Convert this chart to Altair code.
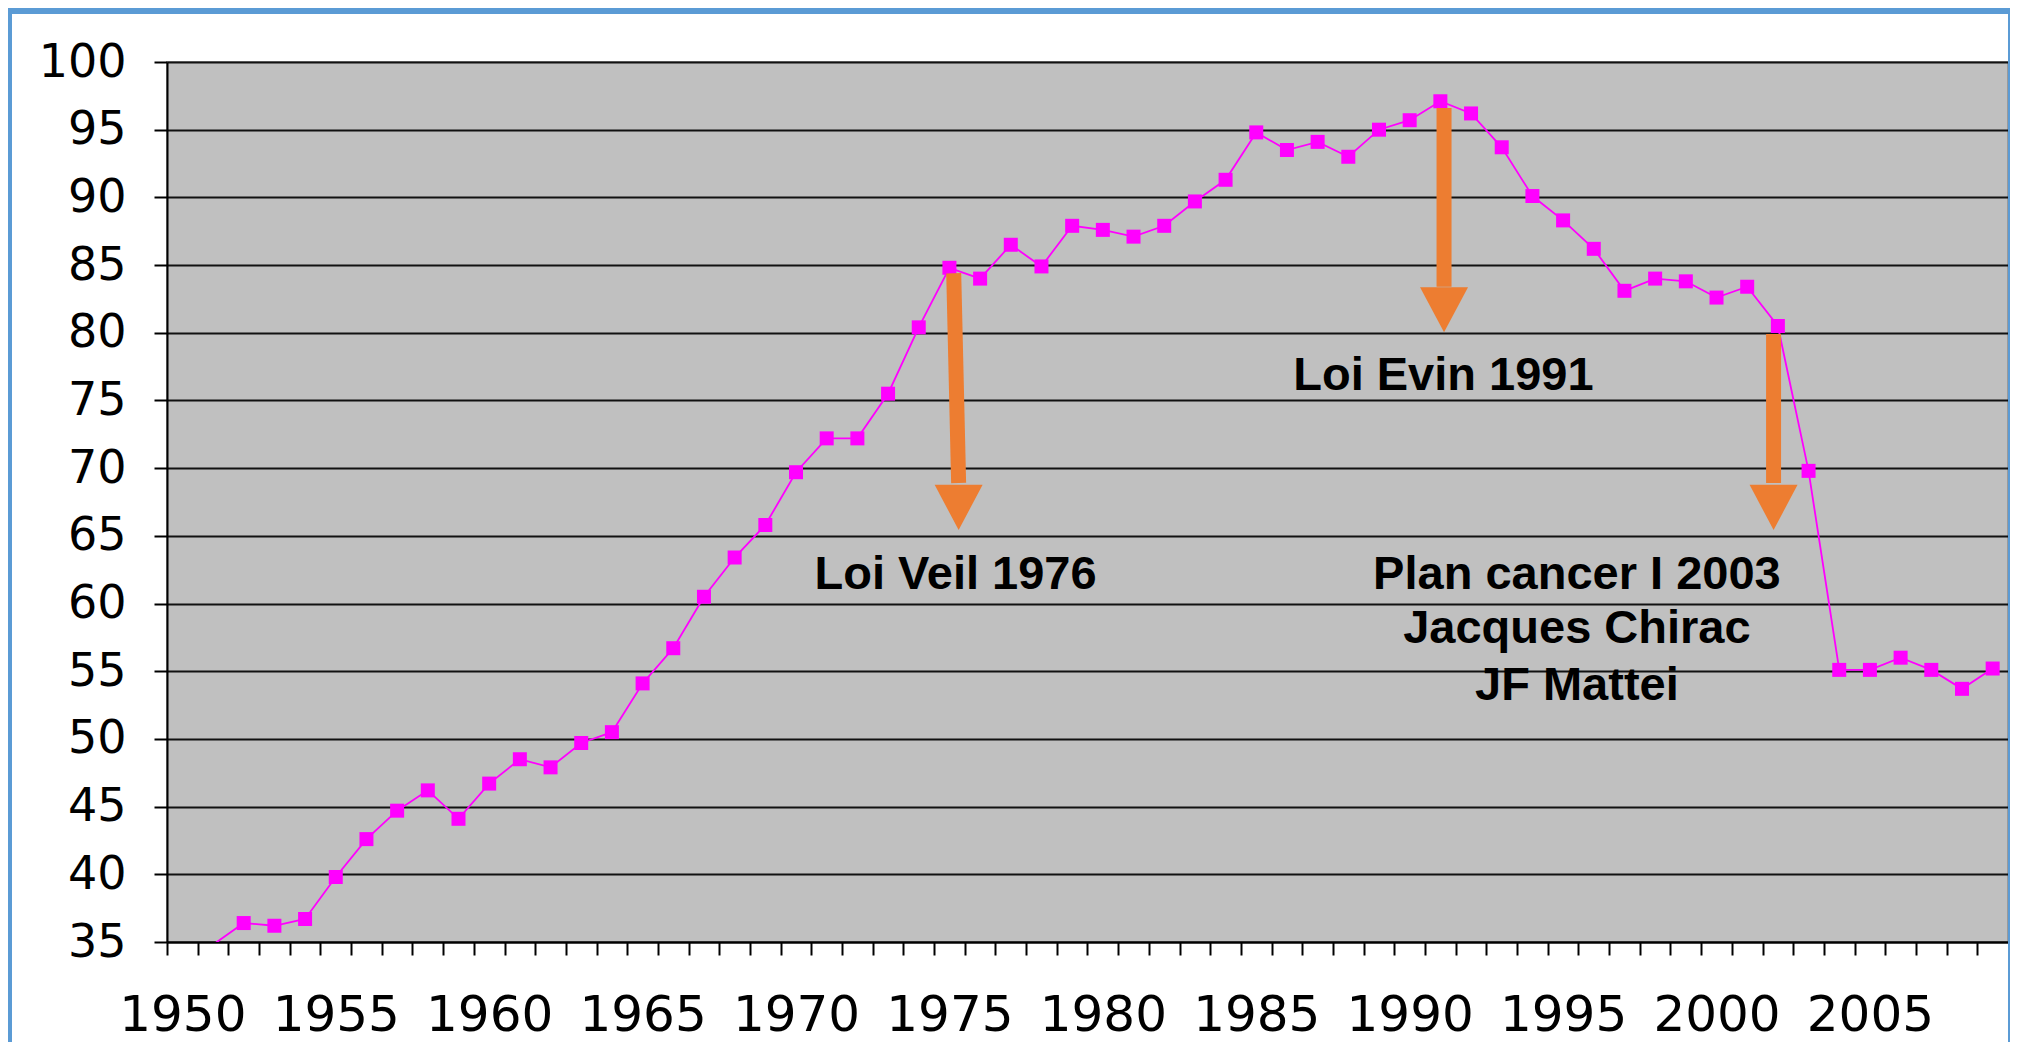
import altair as alt
import pandas as pd

# ---- data ----
years = list(range(1951, 2010))
values = [34.8, 36.4, 36.2, 36.7, 39.8, 42.6, 44.7, 46.2, 44.1, 46.7,
          48.5, 47.9, 49.7, 50.5, 54.1, 56.7, 60.5, 63.4, 65.8, 69.7,
          72.2, 72.2, 75.5, 80.4, 84.8, 84.0, 86.5, 84.9, 87.9, 87.6,
          87.1, 87.9, 89.7, 91.3, 94.8, 93.5, 94.1, 93.0, 95.0, 95.7,
          97.1, 96.2, 93.7, 90.1, 88.3, 86.2, 83.1, 84.0, 83.8, 82.6,
          83.4, 80.5, 69.8, 55.1, 55.1, 56.0, 55.1, 53.7, 55.2]

y_ticks = list(range(35, 101, 5))
x_years = list(range(1950, 2010))

# annotation arrows (orange)
arrow_x_top = [1975.14, 1991.12, 2001.86]
arrow_x_bottom = [1975.3, 1991.12, 2001.86]
arrow_y_top = [84.4, 96.6, 79.9]
arrow_y_base = [68.9, 83.4, 68.9]
arrow_y_head = [67.1, 81.7, 67.1]

# annotation texts
note_text = ["Loi Veil 1976", "Loi Evin 1991", "Plan cancer I 2003",
             "Jacques Chirac", "JF Mattei"]
note_x = [1975.2, 1991.1, 1995.45, 1995.45, 1995.45]
note_y = [61.1, 75.8, 61.1, 57.05, 52.9]

W, H = 1841, 880
half = W / 120.0

df = pd.DataFrame({"year": years, "value": values})
arrows = pd.DataFrame({"xt": arrow_x_top, "xb": arrow_x_bottom,
                       "yt": arrow_y_top, "yb": arrow_y_base, "yh": arrow_y_head})
notes = pd.DataFrame({"t": note_text, "x": note_x, "y": note_y})
one = pd.DataFrame({"a": [0]})

xscale = alt.Scale(domain=[1949.5, 2009.5], nice=False, zero=False)
yscale = alt.Scale(domain=[35, 100], nice=False, zero=False)

xaxis = alt.Axis(values=x_years, tickCount=200,
                 labelExpr="datum.value % 5 == 0 ? datum.label : ''",
                 format="d", tickOffset=-half, labelOffset=half,
                 grid=False, tickSize=13, tickColor="black", tickWidth=2,
                 domainColor="black", domainWidth=2,
                 labelFont="DejaVu Sans", labelFontSize=50, labelColor="black",
                 labelPadding=35, labelFlush=False, labelOverlap=False, title=None)
yaxis = alt.Axis(values=y_ticks, tickCount=50, grid=True, gridColor="#111111", gridWidth=2,
                 tickSize=13, tickColor="black", tickWidth=2,
                 domainColor="black", domainWidth=2,
                 labelFont="DejaVu Sans", labelFontSize=46, labelColor="black",
                 labelPadding=28, title=None)

base = alt.Chart(df)
line = base.mark_line(color="#FF00FF", strokeWidth=1.8, clip=True).encode(
    x=alt.X("year:Q", scale=xscale, axis=xaxis),
    y=alt.Y("value:Q", scale=yscale, axis=yaxis),
)
pts = base.transform_filter("datum.value >= 35").mark_point(
    shape="square", filled=True, color="#FF00FF", size=196, opacity=1).encode(
    x="year:Q", y="value:Q")

shaft = alt.Chart(arrows).mark_rule(color="#ED7D31", strokeWidth=15, strokeCap="butt").encode(
    x="xt:Q", x2="xb:Q", y="yt:Q", y2="yb:Q")
head = alt.Chart(arrows).mark_point(
    shape="M-1,-0.94L1,-0.94L0,0.94Z", filled=True, color="#ED7D31",
    size=2304, opacity=1, strokeWidth=0).encode(x="xb:Q", y="yh:Q")

txt = alt.Chart(notes).mark_text(font="Liberation Sans", fontWeight="bold",
                                 fontSize=47, color="black", align="center",
                                 baseline="alphabetic").encode(
    x="x:Q", y="y:Q", text="t:N")

border_top = alt.Chart(one).mark_rule(color="#5B9BD5", strokeWidth=6).encode(
    x=alt.value(-159), x2=alt.value(W + 2), y=alt.value(-51))
border_left = alt.Chart(one).mark_rule(color="#5B9BD5", strokeWidth=4).encode(
    x=alt.value(-157), y=alt.value(-54), y2=alt.value(H + 100))
border_right = alt.Chart(one).mark_rule(color="#5B9BD5", strokeWidth=2).encode(
    x=alt.value(W + 1), y=alt.value(-54), y2=alt.value(H + 100))

chart = alt.layer(line, pts, shaft, head, txt, border_top, border_left, border_right).properties(
    width=W, height=H,
    autosize=alt.AutoSizeParams(type="none"),
    padding={"left": 159, "top": 54, "right": 2, "bottom": 100},
    background="white",
).configure_view(fill="#C0C0C0", stroke="#9A9A9A", strokeWidth=2)

chart.save("out.html", embed_options={"renderer": "svg", "actions": False})
